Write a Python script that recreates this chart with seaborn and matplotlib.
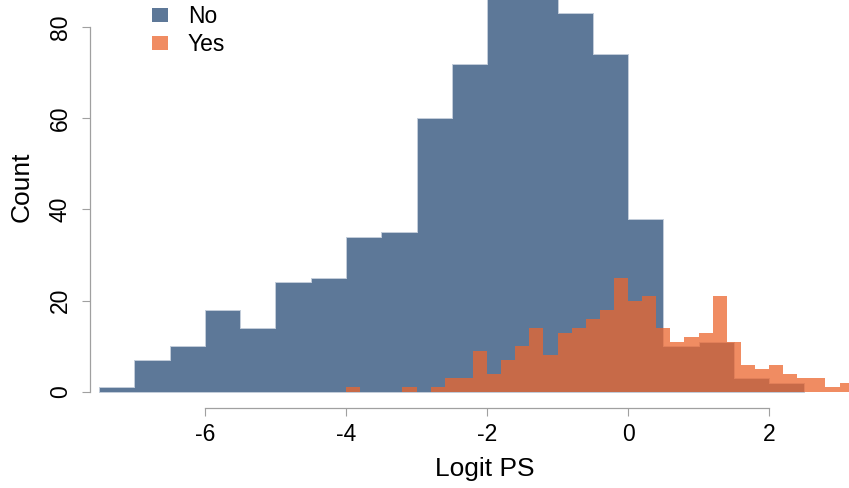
import pandas as pd
import matplotlib
matplotlib.use("Agg")
import matplotlib.pyplot as plt
from matplotlib.patches import Patch
import seaborn as sns

# ── Data (counts) ──
no_start, no_width = -7.5, 0.5
no_counts = [1, 7, 10, 18, 14, 24, 25, 34, 35, 60,
             72, 96, 94, 83, 74, 38, 10, 11, 3, 2]

yes_start, yes_width = -4.0, 0.2
yes_counts = [1, 0, 0, 0, 1, 0, 1, 3, 3, 9,
              4, 7, 10, 14, 8, 13, 14, 16, 18, 25,
              20, 21, 14, 11, 12, 13, 21, 11, 6, 5,
              6, 4, 3, 3, 1, 2]

group_labels = ["No", "Yes"]
x_ticks = [-6, -4, -2, 0, 2]
y_ticks = [0, 20, 40, 60, 80]

no_edges = [round(no_start + no_width * i, 2) for i in range(len(no_counts) + 1)]
yes_edges = [round(yes_start + yes_width * i, 2) for i in range(len(yes_counts) + 1)]

no_df = pd.DataFrame({"x": [(a + b) / 2 for a, b in zip(no_edges[:-1], no_edges[1:])],
                      "n": no_counts})
yes_df = pd.DataFrame({"x": [(a + b) / 2 for a, b in zip(yes_edges[:-1], yes_edges[1:])],
                       "n": yes_counts})

# ── Style ──
sns.set_style("ticks")
plt.rcParams["font.family"] = ["Liberation Sans", "DejaVu Sans"]

BLUE = "#5d7898"
ORANGE = "#ec662e"
GREY = "#a0a0a0"

fig = plt.figure(figsize=(8.49, 4.88), dpi=100)
# axes a bit bigger than the canvas (reference looks cropped on top/right)
ax = fig.add_axes([90 / 849, 1 - 408 / 488, 790 / 849, 442 / 488])

sns.histplot(data=no_df, x="x", weights="n", bins=no_edges, element="step",
             color=BLUE, alpha=1, edgecolor="#c3cdda", linewidth=0.7, ax=ax)
sns.histplot(data=yes_df, x="x", weights="n", bins=yes_edges, element="step",
             color=ORANGE, alpha=0.75, edgecolor="none", linewidth=0, ax=ax)

ax.set_xlim(-7.631, 3.574)
ax.set_ylim(-3.507, 93.37)

# ── R-like axes ──
for s in ["top", "right"]:
    ax.spines[s].set_visible(False)
for s in ["left", "bottom"]:
    ax.spines[s].set_color(GREY)
    ax.spines[s].set_linewidth(0.9)
ax.spines["left"].set_bounds(0, 80)
ax.spines["bottom"].set_bounds(-6, 2)

ax.set_xticks(x_ticks)
ax.set_yticks(y_ticks)
ax.set_xticklabels([f"{t}" for t in x_ticks])
ax.set_yticklabels([f"{t}" for t in y_ticks], rotation=90, va="center")
ax.tick_params(axis="both", direction="out", length=6, width=0.8,
               bottom=True, left=True,
               color=GREY, labelsize=16.5, labelcolor="black")
ax.tick_params(axis="x", pad=5)
ax.tick_params(axis="y", pad=7)

ax.set_xlabel("Logit PS", fontsize=19, color="black")
ax.set_ylabel("Count", fontsize=19, color="black")
ax.xaxis.set_label_coords(0.5, -0.111)
ax.yaxis.set_label_coords((34 - 90) / 790, 0.5)

handles = [Patch(facecolor=BLUE, edgecolor="none"),
           Patch(facecolor=ORANGE, alpha=0.75, edgecolor="none")]
leg = ax.legend(handles, group_labels, loc="upper left",
                bbox_to_anchor=(152 / 849, 1 - 5 / 488), bbox_transform=fig.transFigure,
                frameon=False, fontsize=16.5, handlelength=0.7, handleheight=0.57,
                handletextpad=0.87, labelspacing=0.22, borderpad=0, borderaxespad=0)
for t in leg.get_texts():
    t.set_color("black")

plt.savefig("out.png", dpi=100)
